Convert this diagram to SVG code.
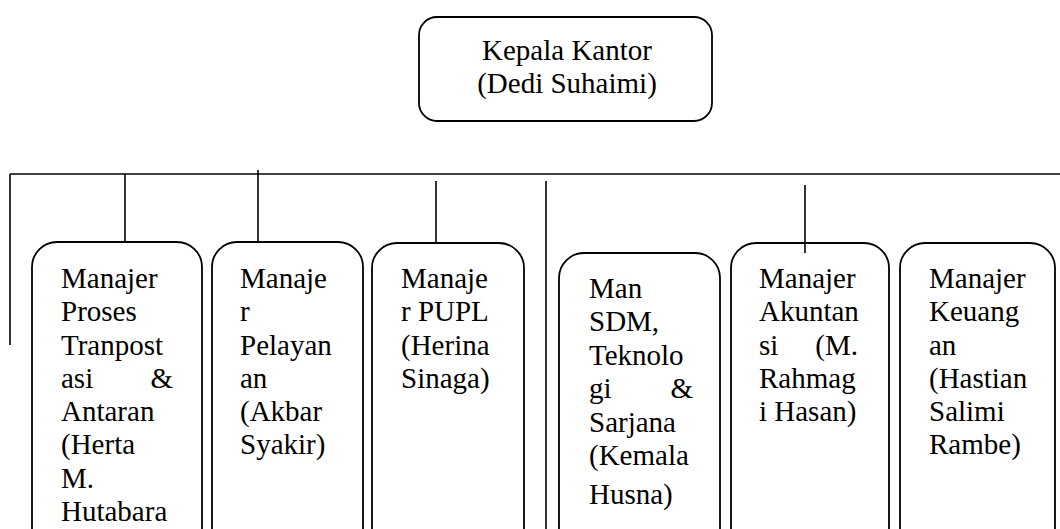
<svg xmlns="http://www.w3.org/2000/svg" width="1060" height="529" viewBox="0 0 1060 529">
<style>
.box{fill:#fff;stroke:#000;stroke-width:1.8}
.ln{stroke:#000;stroke-width:1.6;fill:none}
text{font-family:"Liberation Serif","Times New Roman",serif;font-size:29px;fill:#000}
</style>
<rect width="1060" height="529" fill="#fff"/>
<g id="connectors">
<line class="ln" x1="10" y1="174" x2="1060" y2="174"/>
<line class="ln" x1="10" y1="174" x2="10" y2="345"/>
<line class="ln" x1="125" y1="174" x2="125" y2="242"/>
<line class="ln" x1="258" y1="170" x2="258" y2="242"/>
<line class="ln" x1="436" y1="181" x2="436" y2="243"/>
<line class="ln" x1="546" y1="181" x2="546" y2="529"/>
</g>
<g id="kepala">
<rect class="box" x="419" y="17" width="293" height="104" rx="18"/>
<text x="567" y="60" text-anchor="middle">Kepala Kantor</text>
<text x="567" y="93" text-anchor="middle">(Dedi Suhaimi)</text>
</g>
<g id="proses">
<rect class="box" x="32" y="242" width="170" height="320" rx="25"/>
<text x="61" y="288">Manajer</text>
<text x="61" y="321">Proses</text>
<text x="61" y="355">Tranpost</text>
<text x="61" y="388">asi</text><text x="173" y="388" text-anchor="end">&amp;</text>
<text x="61" y="421">Antaran</text>
<text x="61" y="454">(Herta</text>
<text x="61" y="488">M.</text>
<text x="61" y="521">Hutabara</text>
</g>
<g id="pelayanan">
<rect class="box" x="212" y="242" width="151" height="320" rx="25"/>
<text x="240" y="288">Manaje</text>
<text x="240" y="321">r</text>
<text x="240" y="355">Pelayan</text>
<text x="240" y="388">an</text>
<text x="240" y="421">(Akbar</text>
<text x="240" y="454">Syakir)</text>
</g>
<g id="pupl">
<rect class="box" x="372" y="243" width="152" height="320" rx="25"/>
<text x="401" y="288">Manaje</text>
<text x="401" y="321">r PUPL</text>
<text x="401" y="355">(Herina</text>
<text x="401" y="388">Sinaga)</text>
</g>
<g id="sdm">
<rect class="box" x="559" y="253" width="161" height="320" rx="25"/>
<text x="589" y="298">Man</text>
<text x="589" y="331">SDM,</text>
<text x="589" y="365">Teknolo</text>
<text x="589" y="398">gi</text><text x="693" y="398" text-anchor="end">&amp;</text>
<text x="589" y="432">Sarjana</text>
<text x="589" y="465">(Kemala</text>
<text x="589" y="504">Husna)</text>
</g>
<g id="akuntansi">
<rect class="box" x="731" y="243" width="158" height="320" rx="25"/>
<text x="759" y="288">Manajer</text>
<text x="759" y="321">Akuntan</text>
<text x="759" y="355">si</text><text x="858" y="355" text-anchor="end">(M.</text>
<text x="759" y="388">Rahmag</text>
<text x="759" y="421">i Hasan)</text>
</g>
<g id="keuangan">
<rect class="box" x="900" y="243" width="155" height="320" rx="25"/>
<text x="929" y="288">Manajer</text>
<text x="929" y="321">Keuang</text>
<text x="929" y="355">an</text>
<text x="929" y="388">(Hastian</text>
<text x="929" y="421">Salimi</text>
<text x="929" y="454">Rambe)</text>
</g>
<g id="connectors-top">
<line class="ln" x1="805" y1="185" x2="805" y2="253"/>
</g>
</svg>
